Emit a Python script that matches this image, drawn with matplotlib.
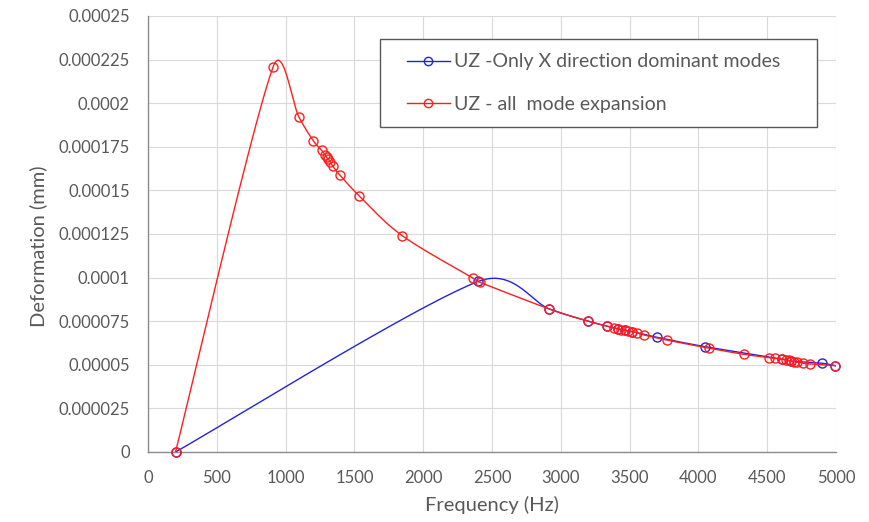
import numpy as np
import matplotlib.pyplot as plt
from matplotlib.lines import Line2D
from matplotlib.patches import Rectangle

# UZ - only X direction dominant modes
freq_x_only = [200, 2400, 2917, 3195, 3333, 3415, 3465, 3520, 3697, 4048,
               4605, 4675, 4896, 4995]
uz_x_only = [0, 0.0000978, 0.000082, 0.0000751, 0.0000722, 0.0000706,
             0.0000698, 0.000069, 0.0000658, 0.0000604, 0.0000533,
             0.0000521, 0.0000509, 0.0000495]

# UZ - all mode expansion
freq_all = [200, 910, 1097, 1201, 1262, 1286, 1298, 1310, 1323, 1342, 1395,
            1536, 1848, 2364, 2413, 2917, 3195, 3333, 3390, 3415, 3440, 3465,
            3490, 3520, 3555, 3605, 3770, 4079, 4331, 4515, 4560, 4605, 4635,
            4655, 4675, 4695, 4720, 4760, 4811, 4995]
uz_all = [0, 0.000221, 0.000192, 0.0001785, 0.000173, 0.0001705, 0.000169,
          0.000168, 0.0001665, 0.000164, 0.0001587, 0.0001468, 0.000124,
          0.0000996, 0.0000973, 0.000082, 0.0000751, 0.0000722, 0.0000711,
          0.0000706, 0.0000702, 0.0000698, 0.0000694, 0.000069, 0.0000684,
          0.0000671, 0.0000642, 0.0000595, 0.000056, 0.0000541, 0.0000537,
          0.0000533, 0.0000528, 0.0000525, 0.0000521, 0.0000518, 0.0000514,
          0.0000509, 0.0000505, 0.0000495]

labels = ["UZ -Only X direction dominant modes", "UZ - all  mode expansion"]

x_ticks = list(range(0, 5001, 500))
y_ticks = [0, 0.000025, 0.00005, 0.000075, 0.0001, 0.000125, 0.00015,
           0.000175, 0.0002, 0.000225, 0.00025]
y_tick_labels = ["0", "0.000025", "0.00005", "0.000075", "0.0001", "0.000125",
                 "0.00015", "0.000175", "0.0002", "0.000225", "0.00025"]

blue = "#2323dc"
red = "#ff1e1e"
grey = "#595959"

plt.rcParams['font.family'] = ['Lato', 'DejaVu Sans']

W, H = 869, 522
fig = plt.figure(figsize=(W / 100, H / 100), dpi=100)
ax = fig.add_axes([148 / W, 70 / H, 688 / W, 436 / H])

# pixels per data unit, so the smoothing is done the way Excel does it (on screen)
sx = 688 / 5000
sy = 436 / 0.00025


def excel_smooth(xs, ys, n=40):
    p = np.column_stack([np.asarray(xs, float) * sx, np.asarray(ys, float) * sy])
    out = [p[0]]
    t = np.linspace(0, 1, n)[1:, None]
    for i in range(len(p) - 1):
        p0 = p[max(i - 1, 0)]
        p1, p2 = p[i], p[i + 1]
        p3 = p[min(i + 2, len(p) - 1)]
        d12 = np.hypot(*(p2 - p1))
        d02 = np.hypot(*(p2 - p0))
        d13 = np.hypot(*(p3 - p1))
        f0 = 1 / 6 if d02 / 6 < d12 / 2 else d12 / d02 / 2
        f1 = 1 / 6 if d13 / 6 < d12 / 2 else d12 / d13 / 2
        c1 = p1 + (p2 - p0) * f0
        c2 = p2 - (p3 - p1) * f1
        seg = (1 - t) ** 3 * p1 + 3 * (1 - t) ** 2 * t * c1 + 3 * (1 - t) * t ** 2 * c2 + t ** 3 * p2
        out.extend(seg)
    out = np.array(out)
    return out[:, 0] / sx, out[:, 1] / sy


mk = dict(marker='o', ms=6.5, mfc='none', mew=1.0, ls='none', clip_on=False)

bx, by = excel_smooth(freq_x_only, uz_x_only)
ax.plot(bx, by, color=blue, lw=1.0, zorder=3)
ax.plot(freq_x_only, uz_x_only, mec=blue, zorder=3.1, **mk)

rx, ry = excel_smooth(freq_all, uz_all)
ax.plot(rx, ry, color=red, lw=1.0, zorder=3.2)
ax.plot(freq_all, uz_all, mec=red, zorder=3.3, **mk)

ax.set_xlim(0, 5000)
ax.set_ylim(0, 0.00025)
ax.set_xticks(x_ticks)
ax.set_yticks(y_ticks)
ax.set_yticklabels(y_tick_labels)
ax.grid(True, color="#d9d9d9", lw=0.8, zorder=0)
ax.set_axisbelow(True)
for s in ['top', 'right']:
    ax.spines[s].set_visible(False)
for s in ['left', 'bottom']:
    ax.spines[s].set_color("#8c8c8c")
    ax.spines[s].set_linewidth(1.0)
ax.tick_params(axis='both', length=0, labelsize=12, labelcolor=grey)
ax.tick_params(axis='y', pad=13)
ax.tick_params(axis='x', pad=13)

ax.set_xlabel("Frequency (Hz)", fontsize=14.5, color=grey)
ax.set_ylabel("Deformation (mm)", fontsize=14.5, color=grey)
ax.xaxis.set_label_coords(0.5, -0.1)
ax.yaxis.set_label_coords(-0.147, 0.472)

# legend box drawn by hand so the padding can match the original
ax.add_patch(Rectangle((0.337, 0.7447), 0.636, 0.2019, transform=ax.transAxes,
                       facecolor='white', edgecolor=grey, lw=1.0, zorder=5,
                       clip_on=False))
handles = [Line2D([], [], color=blue, lw=1.0, marker='o', ms=6, mfc='none', mec=blue),
           Line2D([], [], color=red, lw=1.0, marker='o', ms=6, mfc='none', mec=red)]
leg = ax.legend(handles, labels, loc='upper left', frameon=False,
                bbox_to_anchor=(0.3765, 0.914), borderaxespad=0, borderpad=0,
                fontsize=14, labelcolor=grey, handlelength=2.2, handletextpad=0.2,
                labelspacing=1.3)
leg.set_zorder(6)

fig.savefig("out.png", dpi=100)
